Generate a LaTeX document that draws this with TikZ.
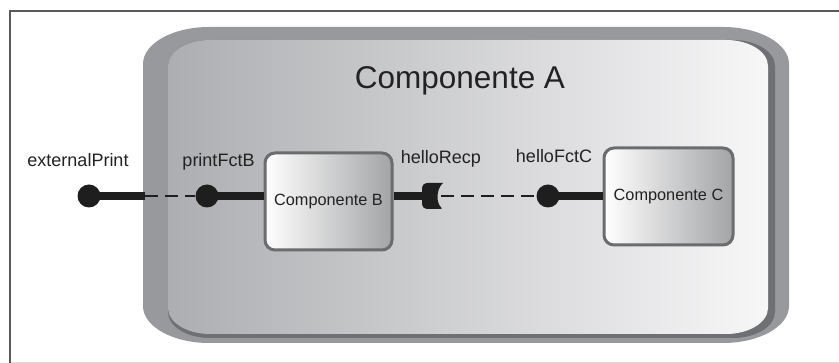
\documentclass[tikz,border=0pt]{standalone}
\usepackage{fontspec}
\setmainfont{Liberation Sans}
\definecolor{framec}{HTML}{5A5A5A}
\definecolor{framelight}{HTML}{DCDCDC}
\definecolor{rim}{HTML}{98999C}
\definecolor{rimdark}{HTML}{6F7073}
\definecolor{panelL}{HTML}{ADAEB1}
\definecolor{panelR}{HTML}{F7F7F8}
\definecolor{boxborder}{HTML}{6B6C6E}
\definecolor{boxR}{HTML}{A3A4A6}
\definecolor{ink}{HTML}{1E1E1E}
\definecolor{txt}{HTML}{222222}
\tikzset{
  erect/.style n args={6}{insert path={
    ({#1+#5},{#2}) -- ({#3-#5},{#2})
    .. controls ({#3-0.4477*#5},{#2}) and ({#3},{#2+0.4477*#6}) .. ({#3},{#2+#6})
    -- ({#3},{#4-#6})
    .. controls ({#3},{#4-0.4477*#6}) and ({#3-0.4477*#5},{#4}) .. ({#3-#5},{#4})
    -- ({#1+#5},{#4})
    .. controls ({#1+0.4477*#5},{#4}) and ({#1},{#4-0.4477*#6}) .. ({#1},{#4-#6})
    -- ({#1},{#2+#6})
    .. controls ({#1},{#2+0.4477*#6}) and ({#1+0.4477*#5},{#2}) .. ({#1+#5},{#2})
    -- cycle}},
  comp/.style={draw=boxborder, line width=3pt, rounded corners=10pt,
    left color=white, right color=boxR, text=txt,
    font=\fontsize{16.3}{18}\selectfont, inner sep=0pt},
  lbl/.style={text=txt, font=\fontsize{18}{20}\selectfont, anchor=base, inner sep=0pt},
  dot/.style={circle, fill=ink, minimum size=23pt, inner sep=0pt},
  plug/.style={draw=ink, line width=8pt},
  dashline/.style={draw=ink, line width=2.5pt, dash pattern=on 13pt off 7pt}
}
\begin{document}
\begin{tikzpicture}[x=1pt,y=-1pt]
\useasboundingbox (0,0) rectangle (839,363);
% frame
\draw[framelight, line width=1pt] (10,362.3) -- (839,362.3);
\draw[framec, line width=1.6pt] (10,363) -- (10,11) -- (839,11);
% Componente A container
\fill[rim, erect={143}{27}{789}{343}{66}{37}];
\fill[rimdark, erect={168}{40}{775}{338}{42}{26}];
\shade[left color=panelL, right color=panelR, erect={168}{40}{768}{334}{42}{26}];
\node[text=txt, font=\fontsize{31.5}{34}\selectfont, anchor=base, inner sep=0pt] (titleA) at (460,89) {Componente A};
% components
\node[comp, minimum width=127pt, minimum height=97pt] (B) at (328.5,201.5) {Componente B};
\node[comp, minimum width=129pt, minimum height=97pt] (C) at (668.5,196.5) {Componente C};
% dots
\node[dot] (ext) at (89,196) {};
\node[dot] (pB) at (207,196) {};
\node[dot] (hC) at (548,196) {};
\coordinate (aL) at (145,196);
\coordinate (rL) at (423,196);
\coordinate (rR) at (441,196);
% connectors
\draw[plug] (ext.center) -- (aL);
\draw[dashline] (aL) -- (pB);
\draw[plug] (pB.center) -- (pB -| B.west);
\draw[plug] (B.east |- rL) -- (rL);
\draw[dashline] (rR) -- (hC);
\draw[plug] (hC.center) -- (hC -| C.west);
% receptacle helloRecp
\fill[ink, rounded corners=2.5pt] (443,183) -- (425,183) -- (422,186) -- (422,206) -- (425,209) -- (443,209)
  [sharp corners] .. controls (436,203) and (436,189) .. (443,183) -- cycle;
% labels
\node[lbl] (lext) at (78,167) {externalPrint};
\node[lbl] (lpB) at (218.5,167) {printFctB};
\node[lbl] (lrec) at (441,164) {helloRecp};
\node[lbl] (lhC) at (554,163) {helloFctC};
\end{tikzpicture}
\end{document}
